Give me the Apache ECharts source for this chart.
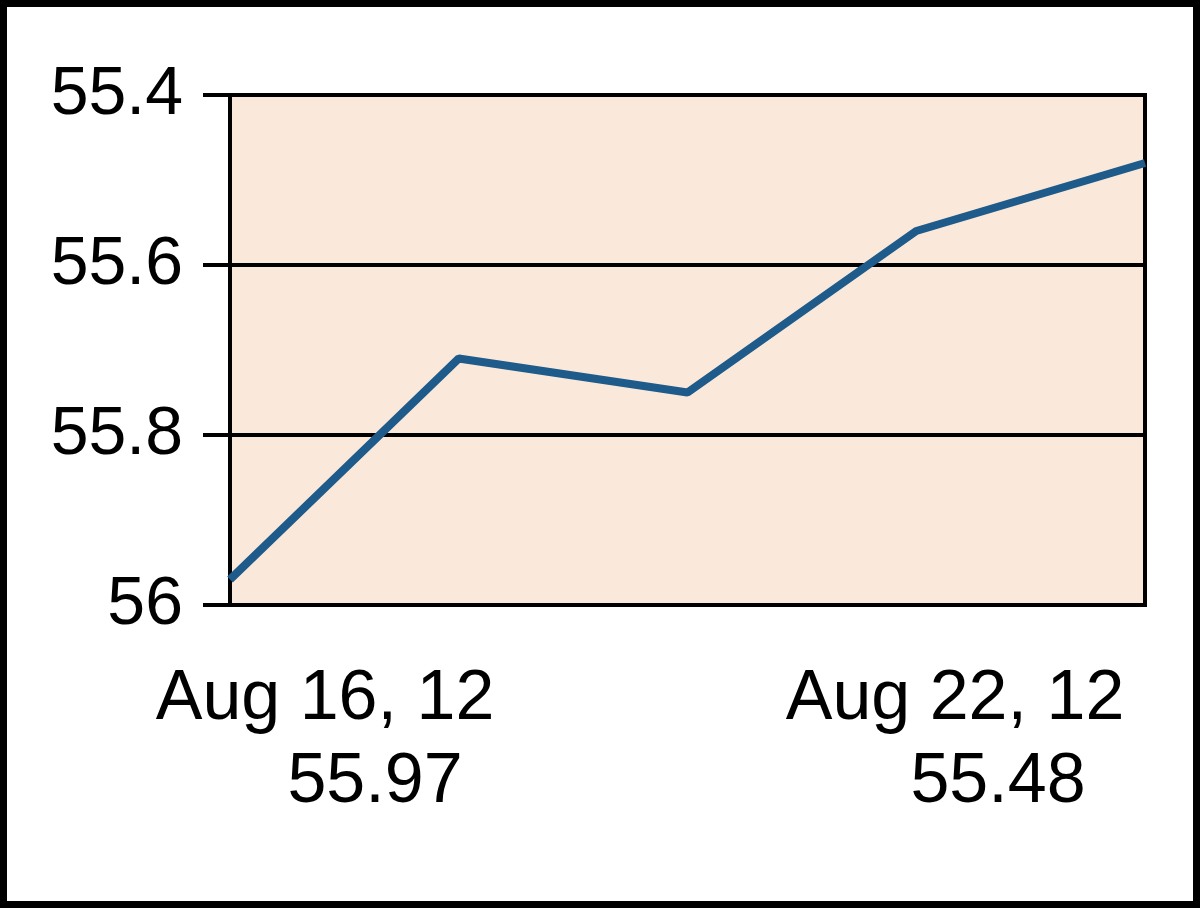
<!DOCTYPE html>
<html>
<head>
<meta charset="utf-8">
<style>
html,body{margin:0;padding:0;background:#fff;}
#c{width:1200px;height:908px;}
</style>
<script src="https://cdn.jsdelivr.net/npm/echarts@6/dist/echarts.min.js"></script>
</head>
<body>
<div id="c"></div>
<script>
const dates = ['Aug 16, 12', 'Aug 17, 12', 'Aug 20, 12', 'Aug 21, 12', 'Aug 22, 12'];
const prices = [55.97, 55.71, 55.75, 55.56, 55.48];
const yTicks = [55.4, 55.6, 55.8, 56];

const FONT = 'Liberation Sans, Arial, sans-serif';
const chart = echarts.init(document.getElementById('c'), null, {renderer: 'canvas'});
const last = dates.length - 1;
chart.setOption({
  animation: false,
  backgroundColor: '#ffffff',
  grid: {
    left: 230, right: 55, top: 95, bottom: 303,
    show: true, backgroundColor: '#FAE9DA', borderColor: '#000', borderWidth: 4
  },
  xAxis: {
    type: 'category', data: dates, boundaryGap: false,
    axisLine: {lineStyle: {color: '#000', width: 4}},
    axisTick: {show: false},
    axisLabel: {show: false},
    splitLine: {show: false}
  },
  yAxis: {
    type: 'value', inverse: true,
    min: yTicks[0], max: yTicks[yTicks.length - 1], interval: 0.2,
    axisLine: {show: true, lineStyle: {color: '#000', width: 4}},
    axisTick: {show: true, length: 27, lineStyle: {color: '#000', width: 4}},
    axisLabel: {color: '#000', fontSize: 68, fontFamily: FONT, margin: 47,
      formatter: v => String(Math.round(v * 10) / 10)},
    splitLine: {show: true, lineStyle: {color: '#000', width: 4}}
  },
  series: [{
    type: 'line', data: prices, symbol: 'none',
    lineStyle: {color: '#1E5A8A', width: 8}
  }],
  graphic: [
    {type: 'rect', shape: {x: 3.5, y: 3.5, width: 1193, height: 901},
      style: {fill: 'none', stroke: '#000', lineWidth: 7}, z: 100},
    {type: 'text', x: 325, y: 700, style: {text: dates[0], font: '70px ' + FONT, fill: '#000', align: 'center', verticalAlign: 'middle'}},
    {type: 'text', x: 375, y: 783, style: {text: prices[0].toFixed(2), font: '70px ' + FONT, fill: '#000', align: 'center', verticalAlign: 'middle'}},
    {type: 'text', x: 955, y: 700, style: {text: dates[last], font: '70px ' + FONT, fill: '#000', align: 'center', verticalAlign: 'middle'}},
    {type: 'text', x: 998, y: 783, style: {text: prices[last].toFixed(2), font: '70px ' + FONT, fill: '#000', align: 'center', verticalAlign: 'middle'}}
  ]
});
</script>
</body>
</html>
